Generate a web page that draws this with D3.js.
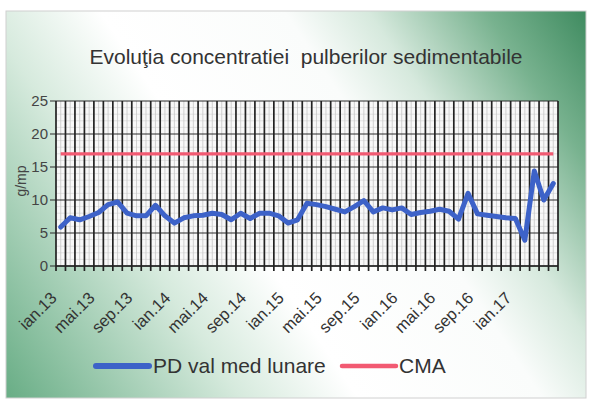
<!DOCTYPE html>
<html>
<head>
<meta charset="utf-8">
<script src="https://cdn.jsdelivr.net/npm/d3@7"></script>
<style>
html,body{margin:0;padding:0;background:#fff;}
svg{display:block;font-family:"Liberation Sans",Arial,sans-serif;}
</style>
</head>
<body>
<svg id="chart" width="590" height="408"></svg>
<script>
const titleText = "Evoluţia concentratiei  pulberilor sedimentabile";
const yAxisTitle = "g/mp";
const categories = [
  "ian.13","feb.13","mar.13","apr.13","mai.13","iun.13","iul.13","aug.13","sep.13","oct.13","nov.13","dec.13",
  "ian.14","feb.14","mar.14","apr.14","mai.14","iun.14","iul.14","aug.14","sep.14","oct.14","nov.14","dec.14",
  "ian.15","feb.15","mar.15","apr.15","mai.15","iun.15","iul.15","aug.15","sep.15","oct.15","nov.15","dec.15",
  "ian.16","feb.16","mar.16","apr.16","mai.16","iun.16","iul.16","aug.16","sep.16","oct.16","nov.16","dec.16",
  "ian.17","feb.17","mar.17","apr.17","mai.17"
];
const shownLabels = ["ian.13","mai.13","sep.13","ian.14","mai.14","sep.14","ian.15","mai.15","sep.15","ian.16","mai.16","sep.16","ian.17"];
const pdValues = [
  5.9,7.3,7.0,7.5,8.1,9.3,9.7,8.0,7.6,7.6,9.2,7.6,
  6.5,7.3,7.6,7.7,8.0,7.8,7.0,8.0,7.2,8.0,8.0,7.6,
  6.5,7.0,9.5,9.3,9.0,8.6,8.2,9.0,9.9,8.2,8.8,8.5,
  8.8,7.8,8.1,8.3,8.6,8.3,7.1,11.0,7.9,7.7,7.5,7.3,
  7.2,3.9,14.4,10.0,12.5
];
const cmaValues = categories.map(() => 17);
const yTicks = [0,5,10,15,20,25];
const seriesNames = ["PD val med lunare","CMA"];
const seriesColors = ["#3d62c8","#f25a72"];

const svg = d3.select("#chart");
const defs = svg.append("defs");
const grad = defs.append("linearGradient").attr("id","bg")
  .attr("gradientUnits","userSpaceOnUse")
  .attr("x1",586).attr("y1",11).attr("x2",6).attr("y2",398);
[[0,"#3f8b60"],[0.12,"#78b28f"],[0.26,"#d6e9dd"],[0.36,"#fafcfb"],[0.58,"#ffffff"],[0.72,"#d6eadd"],[1,"#68ad85"]]
  .forEach(([o,c]) => grad.append("stop").attr("offset",o).attr("stop-color",c));

svg.append("rect").attr("x",6).attr("y",11).attr("width",580).attr("height",387)
  .attr("fill","url(#bg)").attr("stroke","#d0d0d0");

const L = 56, R = 558, T = 101, B = 266;
const x = d3.scaleBand().domain(categories).range([L,R]).paddingInner(0).paddingOuter(0);
const y = d3.scaleLinear().domain([0,25]).range([B,T]);
const cx = c => x(c) + x.bandwidth()/2;

svg.append("rect").attr("x",L).attr("y",T).attr("width",R-L).attr("height",B-T).attr("fill","#f8f8f8");

const g = svg.append("g");
g.selectAll("line.minh").data(d3.range(1,25).filter(v => v%5!==0)).join("line")
  .attr("x1",L).attr("x2",R).attr("y1",d=>y(d)).attr("y2",d=>y(d))
  .attr("stroke","#d2d2d2").attr("stroke-width",0.6);
g.selectAll("line.minv").data(categories).join("line")
  .attr("x1",d=>cx(d)).attr("x2",d=>cx(d)).attr("y1",T).attr("y2",B)
  .attr("stroke","#c6c6c6").attr("stroke-width",0.8);
g.selectAll("line.majh").data(yTicks).join("line")
  .attr("x1",L-6).attr("x2",R).attr("y1",d=>y(d)).attr("y2",d=>y(d))
  .attr("stroke","#2a2a2a").attr("stroke-width",1.1);
const bounds = categories.map(c => x(c)).concat([R]);
g.selectAll("line.vb").data(bounds).join("line")
  .attr("x1",d=>d).attr("x2",d=>d).attr("y1",T).attr("y2",B+5)
  .attr("stroke","#222").attr("stroke-width",1.7);
svg.append("line").attr("x1",L).attr("x2",R).attr("y1",B).attr("y2",B).attr("stroke","#222").attr("stroke-width",1.6);

svg.append("g").selectAll("text").data(yTicks).join("text")
  .attr("x",48).attr("y",d=>y(d)).attr("dy","0.36em").attr("text-anchor","end")
  .attr("font-size",15).attr("fill","#444").text(d=>d);
svg.append("text").attr("transform","translate(26,181) rotate(-90)").attr("text-anchor","middle")
  .attr("font-size",14).attr("fill","#444").text(yAxisTitle);

svg.append("g").selectAll("text").data(shownLabels).join("text")
  .attr("transform",d=>`translate(${cx(d)-3},299) rotate(-45)`)
  .attr("text-anchor","end").attr("font-size",16.5).attr("fill","#333").text(d=>d);

const line = d3.line().x((d,i)=>cx(categories[i])).y(d=>y(d));
svg.append("path").datum(cmaValues).attr("d",line).attr("fill","none")
  .attr("stroke",seriesColors[1]).attr("stroke-width",3.2);
svg.append("path").datum(pdValues).attr("d",line).attr("fill","none")
  .attr("stroke",seriesColors[0]).attr("stroke-width",5).attr("stroke-linejoin","round").attr("stroke-linecap","round");

svg.append("text").attr("x",306).attr("y",64).attr("text-anchor","middle")
  .attr("xml:space","preserve").style("white-space","pre")
  .attr("font-size",21).attr("fill","#333").text(titleText);

const leg = svg.append("g");
const legItems = [{x1:96,x2:149,tx:153},{x1:342,x2:396,tx:399}];
legItems.forEach((it,i) => {
  leg.append("line").attr("x1",it.x1).attr("x2",it.x2).attr("y1",366).attr("y2",366)
    .attr("stroke",seriesColors[i]).attr("stroke-width",i===0?6:4.5).attr("stroke-linecap","round");
  leg.append("text").attr("x",it.tx).attr("y",373).attr("font-size",21).attr("fill","#333").text(seriesNames[i]);
});
</script>
</body>
</html>
